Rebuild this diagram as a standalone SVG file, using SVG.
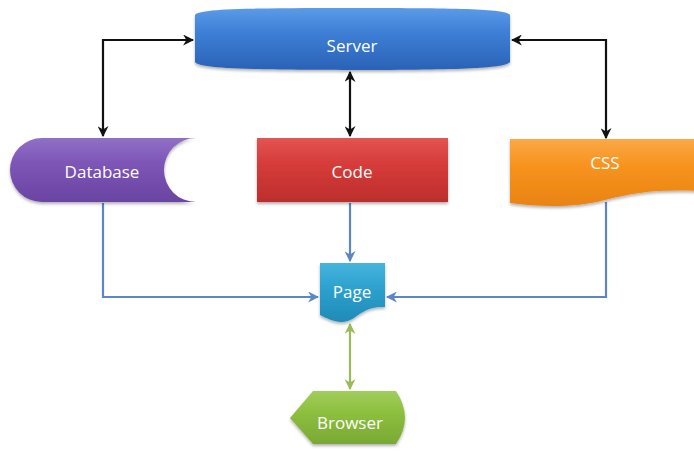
<svg xmlns="http://www.w3.org/2000/svg" width="694" height="453" viewBox="0 0 694 453">
<style>
  .lbl { font-family: "Open Sans", "Liberation Sans", sans-serif; font-size: 17px; fill: #ffffff; text-anchor: middle; }
  .blk { fill: none; stroke: #111111; stroke-width: 2.2; }
  .blu { fill: none; stroke: #5b87c2; stroke-width: 2.2; }
  .grn { fill: none; stroke: #9bbb59; stroke-width: 2.2; }
</style>
<defs>
  <linearGradient id="gServer" x1="0" y1="0" x2="0" y2="1">
    <stop offset="0" stop-color="#5b9be8"/><stop offset="0.4" stop-color="#3d7fd6"/><stop offset="1" stop-color="#2a62b6"/>
  </linearGradient>
  <linearGradient id="gDb" x1="0" y1="0" x2="0" y2="1">
    <stop offset="0" stop-color="#9070c6"/><stop offset="0.4" stop-color="#7d55b6"/><stop offset="1" stop-color="#6a44a2"/>
  </linearGradient>
  <linearGradient id="gCode" x1="0" y1="0" x2="0" y2="1">
    <stop offset="0" stop-color="#e35452"/><stop offset="0.4" stop-color="#d63c3a"/><stop offset="1" stop-color="#bd2e2c"/>
  </linearGradient>
  <linearGradient id="gCss" x1="0" y1="0" x2="0" y2="1">
    <stop offset="0" stop-color="#fba846"/><stop offset="0.4" stop-color="#f7931e"/><stop offset="1" stop-color="#e98312"/>
  </linearGradient>
  <linearGradient id="gPage" x1="0" y1="0" x2="0" y2="1">
    <stop offset="0" stop-color="#46b5dd"/><stop offset="0.4" stop-color="#2ea2cf"/><stop offset="1" stop-color="#1f8ab8"/>
  </linearGradient>
  <linearGradient id="gBr" x1="0" y1="0" x2="0" y2="1">
    <stop offset="0" stop-color="#a2cd5c"/><stop offset="0.4" stop-color="#8dbf3f"/><stop offset="1" stop-color="#79a934"/>
  </linearGradient>
  <filter id="sh" x="-10%" y="-10%" width="120%" height="140%">
    <feDropShadow dx="0" dy="2" stdDeviation="1.5" flood-color="#000" flood-opacity="0.3"/>
  </filter>
  <marker id="aBlk" viewBox="0 0 10 10" refX="9" refY="5" markerWidth="5" markerHeight="5" orient="auto-start-reverse" markerUnits="strokeWidth">
    <path d="M0,0 L10,5 L0,10 L3,5 Z" fill="#111111"/>
  </marker>
  <marker id="aBlu" viewBox="0 0 10 10" refX="9" refY="5" markerWidth="5" markerHeight="5" orient="auto-start-reverse" markerUnits="strokeWidth">
    <path d="M0,0 L10,5 L0,10 L3,5 Z" fill="#5b87c2"/>
  </marker>
  <marker id="aGrn" viewBox="0 0 10 10" refX="9" refY="5" markerWidth="5" markerHeight="5" orient="auto-start-reverse" markerUnits="strokeWidth">
    <path d="M0,0 L10,5 L0,10 L3,5 Z" fill="#9bbb59"/>
  </marker>
</defs>
<rect width="694" height="453" fill="#ffffff"/>

<g id="connectors">
  <path class="blk" d="M193,40 L103,40 L103,136" marker-start="url(#aBlk)" marker-end="url(#aBlk)"/>
  <path class="blk" d="M512,40 L606,40 L606,138" marker-start="url(#aBlk)" marker-end="url(#aBlk)"/>
  <path class="blk" d="M350,72 L350,136" marker-start="url(#aBlk)" marker-end="url(#aBlk)"/>
  <path class="blu" d="M103,203 L103,297 L318,297" marker-end="url(#aBlu)"/>
  <path class="blu" d="M606,202 L606,297 L387,297" marker-end="url(#aBlu)"/>
  <path class="blu" d="M350,203 L350,261" marker-end="url(#aBlu)"/>
  <path class="grn" d="M350,324 L350,389" marker-start="url(#aGrn)" marker-end="url(#aGrn)"/>
</g>

<g id="server">
  <path d="M195,15 C199,9 240,8 352,8 C464,8 506,9 510,15 L510,62 C506,68 464,70 352,70 C240,70 199,68 195,62 Z" fill="url(#gServer)" filter="url(#sh)"/>
  <text class="lbl" x="352" y="52">Server</text>
</g>

<g id="database">
  <path d="M42,138 L196,138 A32,32 0 0 0 196,202 L42,202 A32,32 0 0 1 42,138 Z" fill="url(#gDb)" filter="url(#sh)"/>
  <text class="lbl" x="102" y="178">Database</text>
</g>

<g id="code">
  <rect x="257" y="138" width="191" height="64" fill="url(#gCode)" filter="url(#sh)"/>
  <text class="lbl" x="352" y="178">Code</text>
</g>

<g id="css">
  <path d="M510,139 L700,139 L700,191 C660,189 635,192 605,200 C575,208 540,207 510,203 Z" fill="url(#gCss)" filter="url(#sh)"/>
  <text class="lbl" x="605" y="169">CSS</text>
</g>

<g id="page">
  <path d="M320,263 L385,263 L385,307 C370,306 362,312 354,318 C342,326 330,320 320,315 Z" fill="url(#gPage)" filter="url(#sh)"/>
  <text class="lbl" x="352" y="298">Page</text>
</g>

<g id="browser">
  <path d="M290,418 L313,391 L396,391 Q414,418 396,444 L313,444 Z" fill="url(#gBr)" filter="url(#sh)"/>
  <text class="lbl" x="350" y="429">Browser</text>
</g>
</svg>
